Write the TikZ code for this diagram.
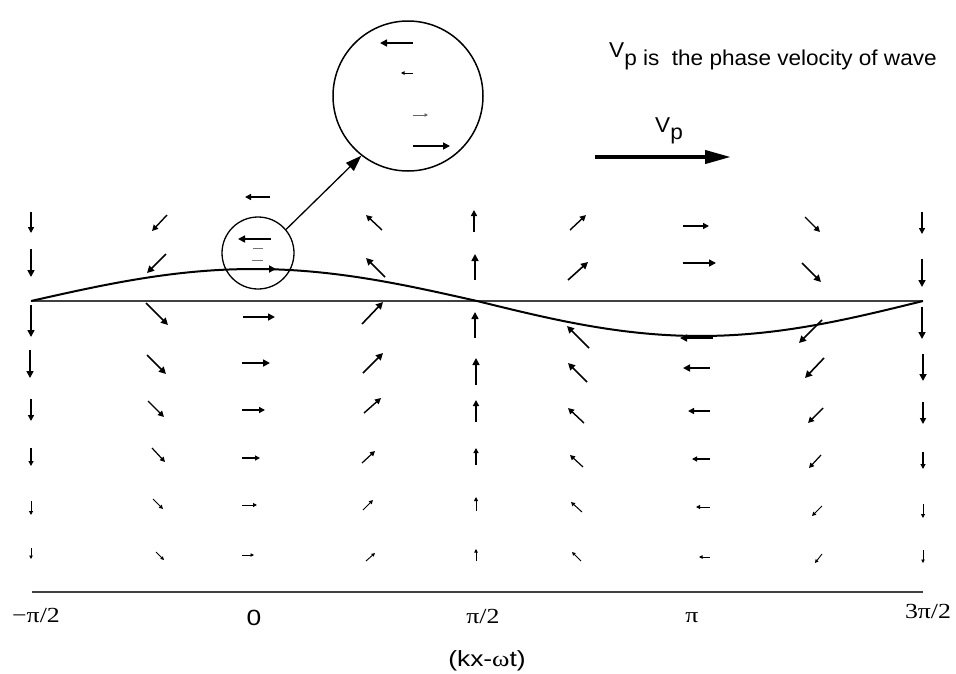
\documentclass[tikz,border=0pt]{standalone}
\usepackage{fontspec}
\setmainfont{Liberation Sans}
\newfontfamily\hvtop[FakeStretch=1.05]{Liberation Sans}
\newfontfamily\hvbot[FakeStretch=1.2]{Liberation Sans}
\newfontfamily\tmbot[FakeStretch=1.2]{Liberation Serif}
\usetikzlibrary{arrows.meta}
\tikzset{
  fbig/.style={line width=1.6pt,-{Triangle[length=7pt,width=7pt]}},
  fmed/.style={line width=1.4pt,-{Triangle[length=6pt,width=6pt]}},
  fsm/.style={line width=1.2pt,-{Triangle[length=5pt,width=5pt]}},
  fxs/.style={line width=1.0pt,-{Triangle[length=4pt,width=4pt]}},
  fxxs/.style={line width=0.9pt,-{Triangle[length=3.5pt,width=3.5pt]}},
  fthin/.style={line width=0.8pt,-{Triangle[length=3.5pt,width=3.5pt]}},
  wave/.style={line width=2pt},
  axisline/.style={line width=1.2pt,black!75},
  ring/.style={circle,draw,inner sep=0pt},
  conn/.style={line width=1.3pt,-{Triangle[length=16pt,width=11pt]}},
  toplab/.style={inner sep=0pt,font=\hvtop\fontsize{21.5}{25}\selectfont},
  sanslab/.style={inner sep=0pt,font=\hvbot\fontsize{22}{26}\selectfont},
  seriflab/.style={inner sep=0pt,font=\tmbot\fontsize{21.5}{26}\selectfont}
}
\begin{document}
\begin{tikzpicture}[x=1pt,y=-1pt]
\useasboundingbox[fill=white] (0,0) rectangle (956,673);

% axis and wave
\coordinate (axL) at (31,301);
\coordinate (axR) at (923,301);
\draw[axisline] (axL) -- (axR);
\draw[wave,line join=round] plot[domain=-90:90,samples=80] ({254+\x/90*223},{301-32*cos(\x)})
  -- plot[domain=90:270,samples=80] ({254+\x/90*223},{301-35*cos(\x)});

% bottom axis
\coordinate (bL) at (32,592);
\coordinate (bR) at (923,592);
\draw[axisline] (bL) -- (bR);

% labels of the bottom axis
\node[seriflab,anchor=base] (lm) at (36,622) {−π/2};
\node[sanslab,anchor=base] (l0) at (254,625) {0};
\node[seriflab,anchor=base] (lh) at (483,623) {π/2};
\node[seriflab,anchor=base] (lp) at (692,622) {π};
\node[seriflab,anchor=base] (l3) at (928,618) {3π/2};
\node[sanslab,anchor=base] (lk) at (487,666) {(kx-{\tmbot ω}t)};

% phase velocity
\node[toplab,anchor=base west] (title) at (609,65) {\raisebox{8pt}{V}p is\ \ the phase velocity of wave};
\node[toplab,anchor=base west] (vpl) at (655,139) {\raisebox{7pt}{V}p};
\coordinate (va) at (595,157);
\coordinate (vb) at (731,157);
\draw[line width=4pt,-{Triangle[length=26pt,width=13pt]}] (va) -- (vb);

% circles
\node[ring,line width=1.3pt,minimum size=72pt] (sc) at (258,253) {};
\node[ring,line width=1.5pt,minimum size=150pt] (bc) at (408,96) {};
\draw[conn] (sc.40) -- (bc.232);

% inside big circle
\draw[fbig] (413,43) -- (380,43);
\draw[fthin] (413,73) -- (401,73);
\draw[fthin,black!60] (413,115) -- (428,115);
\draw[fbig] (413,146) -- (450,146);

% inside small circle
\draw[fbig] (271,239) -- (238,239);
\draw[line width=0.9pt,black!55] (253,248) -- (263,248);
\draw[line width=0.9pt,black!55] (252,260) -- (263,260);
\draw[fbig,line width=2pt] (242,269) -- (276,269);

% top arrow at 0
\draw[fmed] (270,197) -- (245,197);

% row 1
\foreach \a/\b/\c/\d in {31/212/31/233,167/215/152/231,382/230/366/215,474/232/474/210,570/230/586/215,683/226/709/226,805/217/820/232,922/212/922/234}
  \draw[fmed] (\a,\b) -- (\c,\d);
% rows 2-4
\foreach \a/\b/\c/\d in {31/249/31/277,166/254/147/273,385/277/366/258,475/280/475/254,568/280/588/262,683/263/716/263,802/263/821/282,922/259/922/287,
  31/305/31/337,146/303/168/325,243/317/275/317,362/324/383/302,475/338/475/312,589/348/567/326,713/338/680/338,822/320/799/343,922/307/922/339,
  30/350/30/378,147/355/166/374,242/363/270/363,363/373/383/353,476/385/476/358,587/382/568/363,710/368/683/368,824/358/805/378,923/354/923/381}
  \draw[fbig] (\a,\b) -- (\c,\d);
% row 5
\foreach \a/\b/\c/\d in {31/399/31/421,148/401/164/417,242/410/265/410,364/413/381/398,476/422/476/400,584/423/568/408,710/411/688/411,823/408/808/423,923/402/923/424}
  \draw[fmed] (\a,\b) -- (\c,\d);
% row 6
\foreach \a/\b/\c/\d in {31/448/31/466,152/448/165/462,242/458/260/458,362/463/375/451,476/465/476/448,583/467/570/455,710/459/692/459,821/455/809/468,923/452/923/469}
  \draw[fsm] (\a,\b) -- (\c,\d);
% row 7
\foreach \a/\b/\c/\d in {31/501/31/515,153/499/163/509,242/505/257/505,363/510/373/500,476/511/476/497,582/512/571/502,710/507/696/507,822/506/812/516,923/504/923/518}
  \draw[fxs] (\a,\b) -- (\c,\d);
% row 8
\foreach \a/\b/\c/\d in {31/548/31/559,156/552/164/560,242/555/254/555,366/561/375/553,476/561/476/549,581/561/572/552,710/557/699/557,822/554/815/563,923/550/923/563}
  \draw[fxxs] (\a,\b) -- (\c,\d);
\end{tikzpicture}
\end{document}
